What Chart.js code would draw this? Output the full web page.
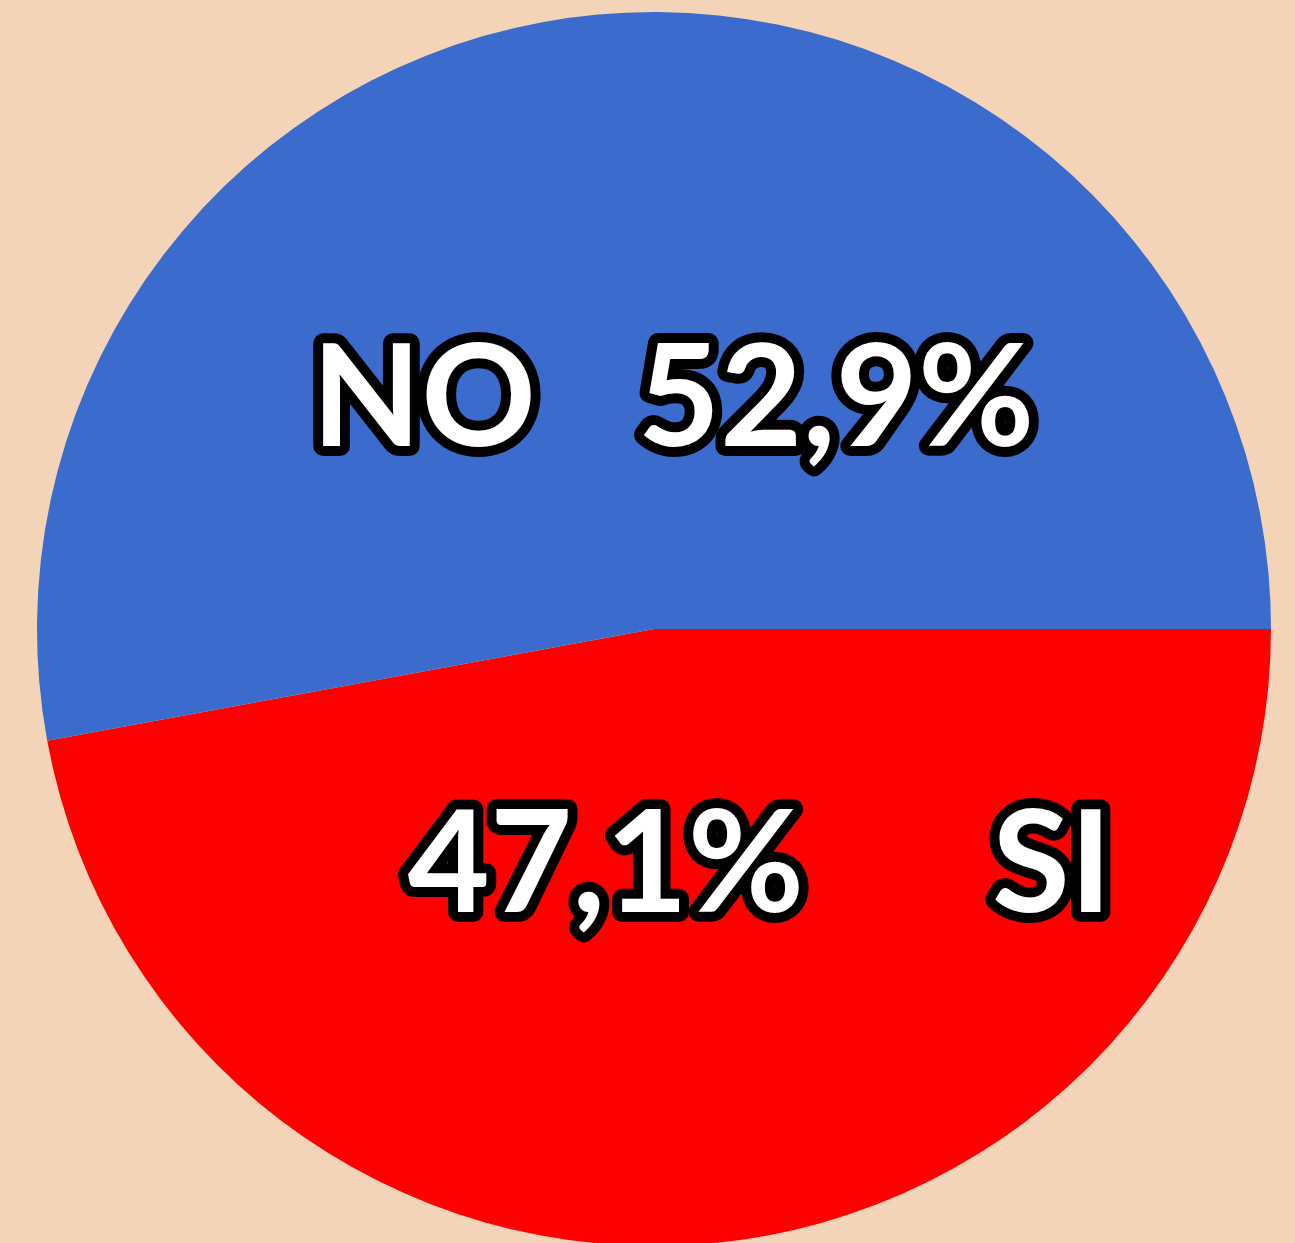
<!DOCTYPE html>
<html>
<head>
<meta charset="utf-8">
<script src="https://cdn.jsdelivr.net/npm/chart.js@4/dist/chart.umd.min.js"></script>
<style>
  html, body { margin: 0; padding: 0; background: #F3D4B8; overflow: hidden; }
  #wrap { width: 1295px; height: 1250px; }
</style>
</head>
<body>
<div id="wrap"><canvas id="votoChart" width="1295" height="1250"></canvas></div>
<script>
const categorias = ['SI', 'NO'];
const porcentajes = [47.1, 52.9];
const colores = ['#FF0000', '#3B6CCD'];

// where each label sits, relative to pie centre, as fraction of radius [dx, dy]
const posEtiquetas = [
    { nombre: [0.645, 0.459], valor: [-0.078, 0.459] },
    { nombre: [-0.373, -0.297], valor: [0.295, -0.297] }
];

const fmt = v => v.toFixed(1).replace('.', ',') + '%';

const etiquetasPlugin = {
    id: 'etiquetas',
    afterDatasetsDraw(chart) {
        const arc = chart.getDatasetMeta(0).data[0];
        const cx = arc.x, cy = arc.y, r = arc.outerRadius;
        const c = chart.ctx;
        c.save();
        c.font = 'bold 142px Lato';
        c.textAlign = 'center';
        c.textBaseline = 'alphabetic';
        c.lineJoin = 'round';
        c.lineWidth = 20;
        c.strokeStyle = '#000';
        c.fillStyle = '#fff';
        categorias.forEach((cat, i) => {
            const p = posEtiquetas[i];
            const items = [[cat, p.nombre], [fmt(porcentajes[i]), p.valor]];
            items.forEach(([txt, pos]) => {
                const x = cx + pos[0] * r, y = cy + pos[1] * r;
                c.strokeText(txt, x, y);
                c.fillText(txt, x, y);
            });
        });
        c.restore();
    }
};

const ctx = document.getElementById('votoChart').getContext('2d');
const votoChart = new Chart(ctx, {
    type: 'pie',
    data: {
        labels: categorias,
        datasets: [{
            data: porcentajes,
            backgroundColor: colores,
            borderWidth: 0
        }]
    },
    options: {
        responsive: false,
        animation: false,
        rotation: 90,
        layout: { padding: { top: 12, bottom: 4, left: 37, right: 24 } },
        plugins: {
            legend: { display: false },
            tooltip: { enabled: false }
        }
    },
    plugins: [etiquetasPlugin]
});
</script>
</body>
</html>
